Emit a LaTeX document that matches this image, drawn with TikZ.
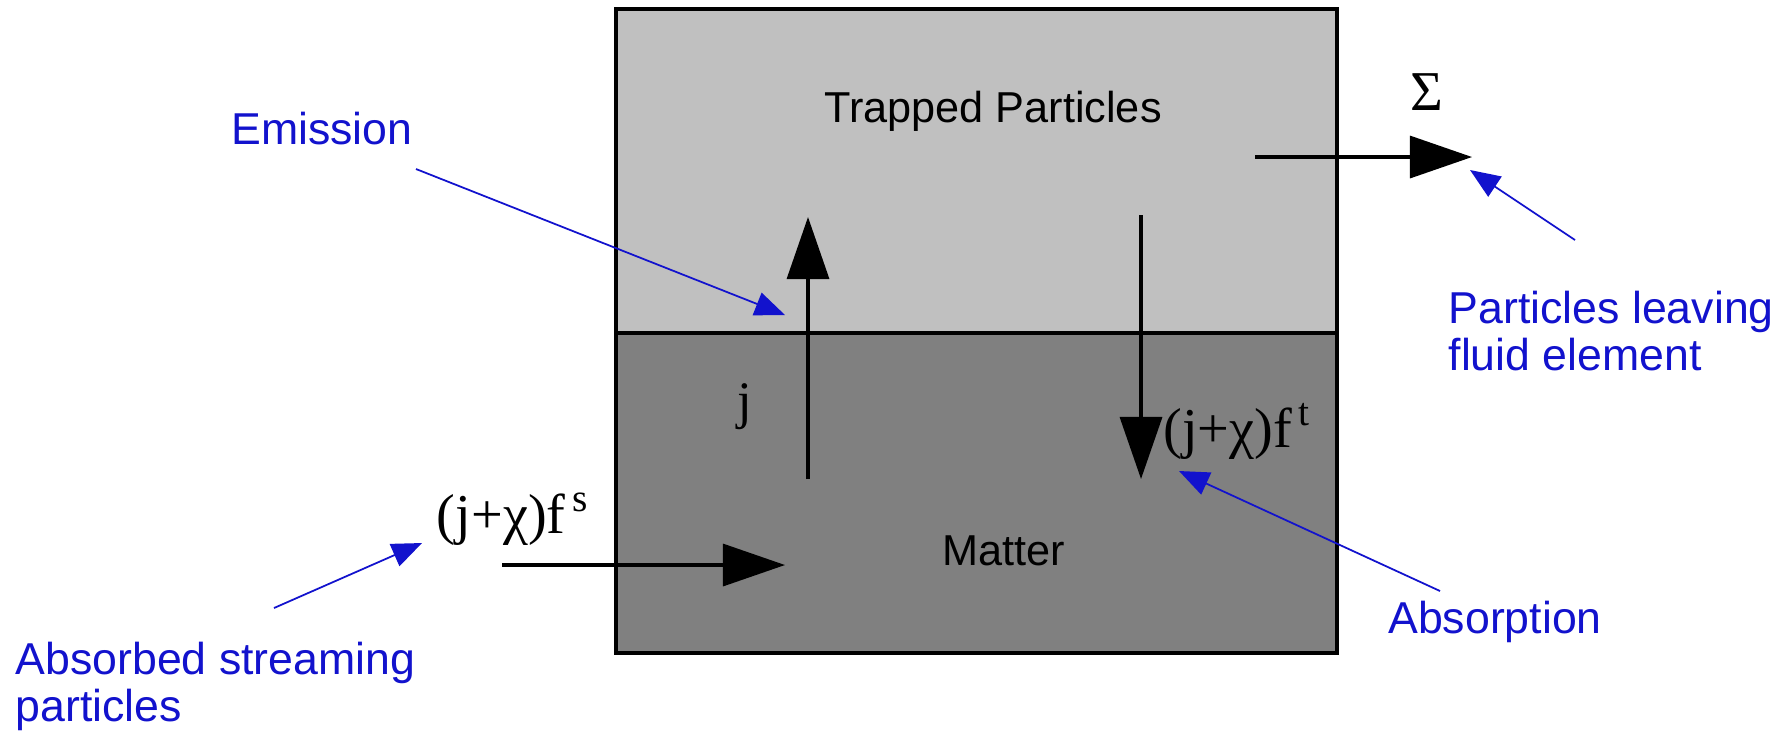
\documentclass[tikz,border=0pt]{standalone}
\usepackage{fontspec}
\setmainfont{Liberation Serif}
\newfontfamily\labelfont{Liberation Sans}
\usetikzlibrary{arrows.meta}
\definecolor{notecol}{RGB}{18,18,205}
\definecolor{trapgray}{RGB}{192,192,192}
\definecolor{mattergray}{RGB}{128,128,128}

\begin{document}
\begin{tikzpicture}[x=0.01cm, y=-0.01cm, line width=0.9pt,
  flow/.style={line width=0.9pt, -{Triangle[length=0.62cm, width=0.42cm]}},
  note/.style={notecol, line width=0.5pt, -{Triangle[length=0.3cm, width=0.24cm]}},
  notetext/.style={text=notecol, font=\labelfont\fontsize{12.7}{13.4}\selectfont, inner sep=0pt, align=left},
  boxtext/.style={font=\labelfont\fontsize{12.3}{14}\selectfont, inner sep=0pt},
  mathtext/.style={font=\fontsize{16}{18}\selectfont, inner sep=0pt}]
  \useasboundingbox (0,0) rectangle (1789,738);
  \coordinate (TL) at (616,9); \coordinate (TR) at (1337,9);
  \coordinate (ML) at (616,333); \coordinate (MR) at (1337,333);
  \coordinate (BL) at (616,653); \coordinate (BR) at (1337,653);
  \fill[trapgray] (TL) rectangle (MR);
  \fill[mattergray] (ML) rectangle (BR);
  \draw[line width=1.1pt] (TL) rectangle (BR);
  \draw[line width=1.1pt] (ML) -- (MR);
  \node[boxtext] (trapped) at (993,111) {Trapped Particles};
  \node[boxtext] (matter) at (1004,551) {Matter};
  \coordinate (EmitTail) at (808,479); \coordinate (EmitTip) at (808,217);
  \coordinate (AbsTail) at (1141,215); \coordinate (AbsTip) at (1141,479);
  \coordinate (LeaveTail) at (1255,157); \coordinate (LeaveTip) at (1472,157);
  \coordinate (StreamTail) at (502,565); \coordinate (StreamTip) at (785,565);
  \draw[flow] (EmitTail) -- (EmitTip);
  \draw[flow] (AbsTail) -- (AbsTip);
  \draw[flow] (LeaveTail) -- (LeaveTip);
  \draw[flow] (StreamTail) -- (StreamTip);
  \node[mathtext, font=\fontsize{15}{17}\selectfont] (jlab) at (745,407) {j};
  \node[mathtext, anchor=west] (abslab) at (1162,431) {(j+χ)f\textsuperscript{\,t}};
  \node[mathtext] (streamlab) at (513,519) {(j+χ)f\textsuperscript{\,s}};
  \node[mathtext] (sigma) at (1427,92) {Σ};
  \node[notetext] (emission) at (322,129) {Emission};
  \node[notetext, anchor=west] (leaving) at (1447,331) {Particles leaving\\fluid element};
  \node[notetext] (absorption) at (1495,622) {Absorption};
  \node[notetext, anchor=west] (absorbed) at (14,686) {Absorbed streaming\\particles};
  \coordinate (EmNote) at (416,169); \coordinate (EmPoint) at (785,315);
  \coordinate (LeaveNote) at (1575,240); \coordinate (LeavePoint) at (1470,170);
  \coordinate (AbsNote) at (1440,591); \coordinate (AbsPoint) at (1179,471);
  \coordinate (StreamNote) at (274,608); \coordinate (StreamPoint) at (422,543);
  \draw[note] (EmNote) -- (EmPoint);
  \draw[note] (LeaveNote) -- (LeavePoint);
  \draw[note] (AbsNote) -- (AbsPoint);
  \draw[note] (StreamNote) -- (StreamPoint);
\end{tikzpicture}
\end{document}
